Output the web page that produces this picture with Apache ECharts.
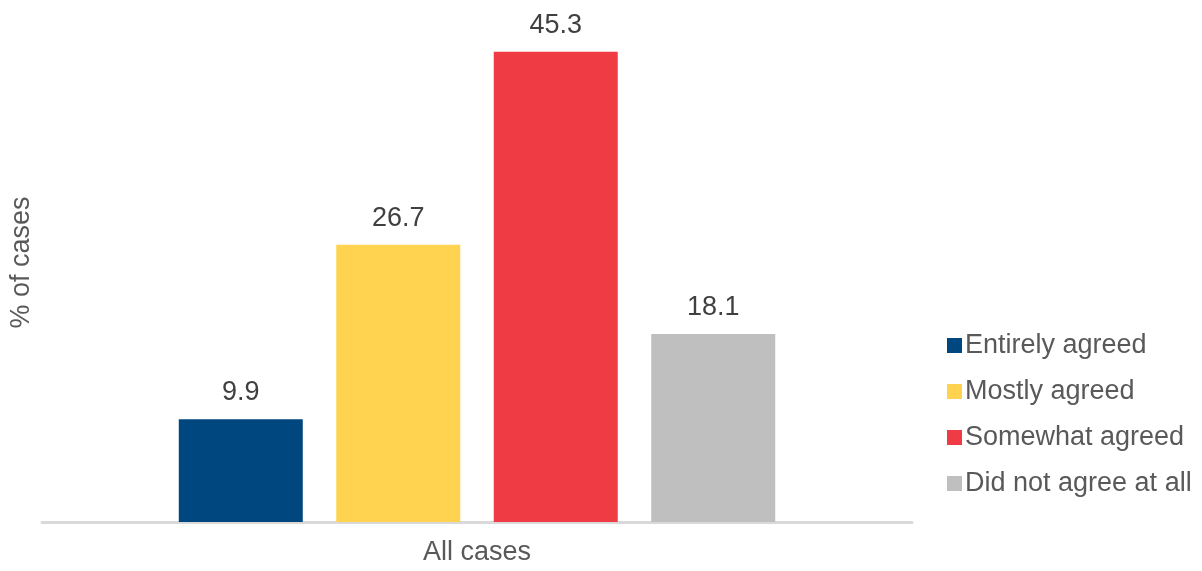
<!DOCTYPE html>
<html>
<head>
<meta charset="utf-8">
<script src="https://cdn.jsdelivr.net/npm/echarts@6/dist/echarts.min.js"></script>
<style>html,body{margin:0;padding:0;background:#fff}#c{width:1202px;height:571px}</style>
</head>
<body>
<div id="c"></div>
<script>
const categories = ['All cases'];
const seriesNames = ['Entirely agreed', 'Mostly agreed', 'Somewhat agreed', 'Did not agree at all'];
const entirelyAgreed = [9.9];
const mostlyAgreed = [26.7];
const somewhatAgreed = [45.3];
const didNotAgree = [18.1];
const colors = ['#00467F', '#FFD34F', '#EF3B44', '#BFBFBF'];
const values = [entirelyAgreed, mostlyAgreed, somewhatAgreed, didNotAgree];

const font = 'Liberation Sans';
const chart = echarts.init(document.getElementById('c'));
chart.setOption({
  animation: false,
  grid: { left: 42, right: 290, top: 3, bottom: 49 },
  legend: {
    orient: 'vertical', left: 942, top: 327,
    itemWidth: 15, itemHeight: 15, itemGap: 19,
    icon: 'rect',
    textStyle: { fontFamily: font, fontSize: 27, color: '#595959', padding: [0,0,0,-2] },
    data: seriesNames
  },
  xAxis: {
    type: 'category', data: categories,
    axisLine: { lineStyle: { color: '#d9d9d9', width: 3 } },
    axisTick: { show: false },
    axisLabel: { fontFamily: font, fontSize: 27, color: '#595959', margin: 17 }
  },
  yAxis: {
    type: 'value', min: 0, max: 50,
    name: '% of cases', nameLocation: 'middle', nameGap: 7,
    nameTextStyle: { fontFamily: font, fontSize: 27, color: '#595959' },
    axisLabel: { show: false }, axisLine: { show: false }, axisTick: { show: false },
    splitLine: { show: false }
  },
  series: seriesNames.map((n, i) => ({
    name: n, type: 'bar', data: values[i], barWidth: 124, barGap: '27%',
    itemStyle: { color: colors[i] },
    label: { show: true, position: 'top', distance: 13, fontFamily: font, fontSize: 27, color: '#404040', formatter: p => p.value.toFixed(1) }
  }))
});
</script>
</body>
</html>
